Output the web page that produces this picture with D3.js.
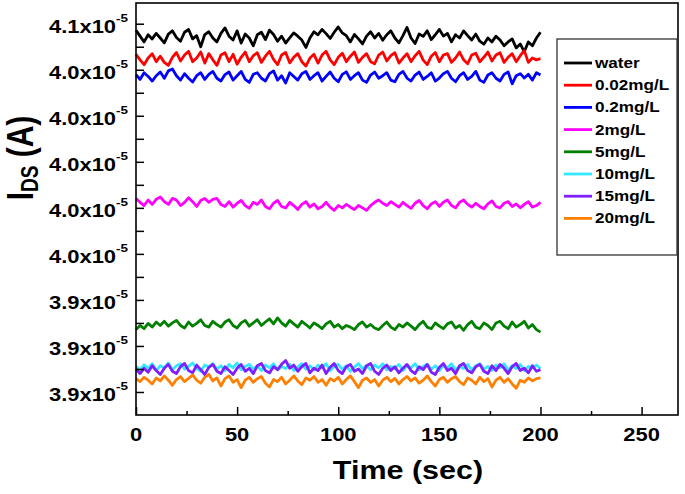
<!DOCTYPE html>
<html><head><meta charset="utf-8">
<script src="https://cdn.jsdelivr.net/npm/d3@7"></script>
<style>body{margin:0;background:#fff}svg{display:block}text{font-family:Arial,"Liberation Sans",sans-serif;font-weight:bold;fill:#000}</style>
</head><body><svg id="c" width="685" height="494"></svg>
<script>
// time points (sec), 0..200 step 2
const time = d3.range(0, 201, 2);
const seriesNames = ["water","0.02mg/L","0.2mg/L","2mg/L","5mg/L","10mg/L","15mg/L","20mg/L"];
const seriesColors = ["#000000","#ff0000","#0000ff","#ff00ff","#008000","#33e8ff","#7f1fff","#ff8000"];
// I_DS values in units of 1e-5 A
const water = [4.0572,4.0546,4.0521,4.0552,4.0534,4.0558,4.0538,4.0517,4.0555,4.0569,
4.0540,4.0524,4.0563,4.0575,4.0534,4.0548,4.0500,4.0553,4.0565,4.0538,
4.0521,4.0558,4.0582,4.0546,4.0529,4.0569,4.0516,4.0555,4.0538,4.0504,
4.0552,4.0563,4.0531,4.0572,4.0553,4.0524,4.0546,4.0516,4.0538,4.0560,
4.0546,4.0529,4.0497,4.0538,4.0565,4.0552,4.0575,4.0557,4.0536,4.0563,
4.0586,4.0560,4.0548,4.0521,4.0553,4.0534,4.0512,4.0546,4.0565,4.0538,
4.0558,4.0528,4.0552,4.0569,4.0538,4.0517,4.0548,4.0584,4.0538,4.0514,
4.0555,4.0545,4.0569,4.0531,4.0552,4.0575,4.0546,4.0558,4.0521,4.0552,
4.0538,4.0569,4.0548,4.0529,4.0555,4.0524,4.0511,4.0538,4.0521,4.0546,
4.0529,4.0504,4.0521,4.0534,4.0495,4.0512,4.0478,4.0521,4.0504,4.0538,
4.0563];
const mg002 = [4.0467,4.0443,4.0422,4.0451,4.0470,4.0435,4.0459,4.0432,4.0419,4.0454,
4.0475,4.0438,4.0464,4.0480,4.0435,4.0451,4.0477,4.0429,4.0470,4.0443,
4.0419,4.0464,4.0474,4.0435,4.0467,4.0424,4.0454,4.0477,4.0435,4.0461,
4.0474,4.0432,4.0459,4.0480,4.0445,4.0422,4.0464,4.0475,4.0430,4.0454,
4.0470,4.0435,4.0416,4.0451,4.0467,4.0429,4.0464,4.0480,4.0443,4.0422,
4.0454,4.0472,4.0435,4.0459,4.0477,4.0432,4.0454,4.0470,4.0435,4.0426,
4.0464,4.0477,4.0438,4.0461,4.0474,4.0429,4.0451,4.0470,4.0435,4.0461,
4.0480,4.0442,4.0422,4.0459,4.0475,4.0435,4.0464,4.0470,4.0432,4.0451,
4.0477,4.0443,4.0426,4.0464,4.0472,4.0435,4.0454,4.0477,4.0438,4.0464,
4.0474,4.0432,4.0454,4.0470,4.0435,4.0461,4.0483,4.0432,4.0451,4.0443,
4.0448];
const mg02 = [4.0379,4.0358,4.0387,4.0371,4.0351,4.0374,4.0390,4.0363,4.0395,4.0403,
4.0374,4.0355,4.0383,4.0363,4.0347,4.0374,4.0387,4.0358,4.0380,4.0393,
4.0363,4.0351,4.0379,4.0390,4.0355,4.0374,4.0393,4.0358,4.0345,4.0380,
4.0387,4.0363,4.0351,4.0383,4.0395,4.0355,4.0374,4.0342,4.0387,4.0371,
4.0355,4.0383,4.0393,4.0358,4.0374,4.0387,4.0351,4.0371,4.0390,4.0363,
4.0348,4.0380,4.0391,4.0358,4.0374,4.0387,4.0355,4.0345,4.0377,4.0390,
4.0363,4.0374,4.0387,4.0355,4.0348,4.0380,4.0393,4.0364,4.0351,4.0377,
4.0390,4.0358,4.0371,4.0387,4.0351,4.0364,4.0383,4.0393,4.0363,4.0348,
4.0374,4.0387,4.0358,4.0371,4.0393,4.0355,4.0345,4.0377,4.0387,4.0363,
4.0351,4.0380,4.0390,4.0339,4.0374,4.0383,4.0364,4.0380,4.0355,4.0387,
4.0377];
const mg2 = [3.9841,3.9824,3.9810,3.9834,3.9815,3.9837,3.9847,3.9827,3.9815,3.9841,
3.9834,3.9810,3.9824,3.9844,3.9827,3.9806,3.9832,3.9841,3.9824,3.9837,
3.9841,3.9815,3.9806,3.9827,3.9803,3.9820,3.9832,3.9810,3.9798,3.9824,
3.9815,3.9834,3.9806,3.9796,3.9820,3.9832,3.9806,3.9800,3.9824,3.9810,
3.9793,3.9815,3.9827,3.9803,3.9817,3.9796,3.9806,3.9824,3.9803,3.9789,
3.9810,3.9800,3.9815,3.9803,3.9793,3.9810,3.9800,3.9789,3.9810,3.9824,
3.9834,3.9820,3.9810,3.9827,3.9815,3.9803,3.9824,3.9810,3.9798,3.9820,
3.9832,3.9810,3.9796,3.9817,3.9827,3.9806,3.9824,3.9834,3.9810,3.9800,
3.9824,3.9834,3.9815,3.9803,3.9820,3.9806,3.9796,3.9817,3.9830,3.9806,
3.9800,3.9820,3.9827,3.9806,3.9817,3.9800,3.9815,3.9827,3.9803,3.9810,
3.9824];
const mg5 = [3.9271,3.9289,3.9275,3.9298,3.9282,3.9304,3.9289,3.9307,3.9286,3.9300,
3.9311,3.9289,3.9278,3.9304,3.9286,3.9298,3.9314,3.9289,3.9282,3.9307,
3.9293,3.9282,3.9304,3.9314,3.9289,3.9278,3.9300,3.9311,3.9286,3.9300,
3.9314,3.9289,3.9304,3.9318,3.9296,3.9322,3.9300,3.9286,3.9311,3.9296,
3.9282,3.9307,3.9293,3.9278,3.9300,3.9289,3.9275,3.9296,3.9307,3.9282,
3.9293,3.9275,3.9289,3.9282,3.9271,3.9293,3.9304,3.9282,3.9293,3.9278,
3.9271,3.9289,3.9304,3.9282,3.9271,3.9293,3.9282,3.9300,3.9286,3.9271,
3.9293,3.9307,3.9282,3.9275,3.9300,3.9286,3.9275,3.9296,3.9304,3.9278,
3.9289,3.9268,3.9293,3.9307,3.9282,3.9275,3.9300,3.9289,3.9271,3.9300,
3.9307,3.9286,3.9275,3.9304,3.9282,3.9293,3.9307,3.9278,3.9293,3.9271,
3.9260];
const mg10 = [3.9111,3.9096,3.9118,3.9103,3.9123,3.9093,3.9114,3.9105,3.9126,3.9096,
3.9114,3.9123,3.9099,3.9111,3.9126,3.9102,3.9090,3.9117,3.9108,3.9123,
3.9099,3.9114,3.9093,3.9120,3.9105,3.9126,3.9096,3.9111,3.9120,3.9099,
3.9114,3.9093,3.9117,3.9105,3.9123,3.9096,3.9111,3.9102,3.9120,3.9093,
3.9108,3.9123,3.9099,3.9114,3.9096,3.9117,3.9105,3.9123,3.9093,3.9111,
3.9120,3.9099,3.9114,3.9090,3.9108,3.9123,3.9102,3.9114,3.9096,3.9117,
3.9105,3.9123,3.9096,3.9111,3.9102,3.9120,3.9093,3.9114,3.9105,3.9123,
3.9096,3.9111,3.9120,3.9099,3.9114,3.9093,3.9117,3.9105,3.9123,3.9096,
3.9111,3.9102,3.9120,3.9096,3.9114,3.9123,3.9099,3.9111,3.9093,3.9117,
3.9105,3.9123,3.9096,3.9114,3.9102,3.9120,3.9093,3.9111,3.9105,3.9117,
3.9102];
const mg15 = [3.9100,3.9080,3.9103,3.9086,3.9114,3.9093,3.9076,3.9103,3.9120,3.9090,
3.9080,3.9110,3.9124,3.9093,3.9083,3.9117,3.9097,3.9076,3.9107,3.9120,
3.9090,3.9080,3.9110,3.9093,3.9076,3.9103,3.9120,3.9090,3.9103,3.9080,
3.9114,3.9124,3.9093,3.9083,3.9110,3.9097,3.9120,3.9137,3.9103,3.9117,
3.9090,3.9110,3.9124,3.9083,3.9103,3.9093,3.9117,3.9080,3.9107,3.9124,
3.9093,3.9080,3.9110,3.9120,3.9090,3.9100,3.9080,3.9114,3.9124,3.9090,
3.9076,3.9103,3.9117,3.9093,3.9110,3.9083,3.9103,3.9120,3.9093,3.9080,
3.9110,3.9097,3.9120,3.9086,3.9076,3.9107,3.9124,3.9093,3.9103,3.9080,
3.9114,3.9124,3.9093,3.9083,3.9110,3.9120,3.9090,3.9080,3.9114,3.9093,
3.9120,3.9103,3.9080,3.9110,3.9124,3.9093,3.9103,3.9083,3.9114,3.9090,
3.9097];
const mg20 = [3.9058,3.9045,3.9064,3.9051,3.9035,3.9061,3.9048,3.9070,3.9051,3.9029,
3.9054,3.9067,3.9045,3.9059,3.9074,3.9051,3.9038,3.9064,3.9077,3.9048,
3.9061,3.9026,3.9058,3.9070,3.9042,3.9054,3.9019,3.9051,3.9064,3.9042,
3.9058,3.9067,3.9038,3.9022,3.9054,3.9045,3.9064,3.9035,3.9051,3.9070,
3.9048,3.9032,3.9061,3.9051,3.9067,3.9042,3.9054,3.9029,3.9058,3.9048,
3.9064,3.9035,3.9054,3.9070,3.9045,3.9019,3.9051,3.9061,3.9042,3.9054,
3.9026,3.9051,3.9064,3.9045,3.9059,3.9035,3.9054,3.9067,3.9048,3.9061,
3.9038,3.9051,3.9070,3.9045,3.9026,3.9054,3.9064,3.9042,3.9058,3.9067,
3.9045,3.9032,3.9061,3.9051,3.9035,3.9064,3.9045,3.9058,3.9022,3.9051,
3.9064,3.9042,3.9058,3.9035,3.9016,3.9051,3.9042,3.9061,3.9048,3.9058,
3.9061];
const seriesValues = [water, mg002, mg02, mg2, mg5, mg10, mg15, mg20];
const xTicks = [0, 50, 100, 150, 200, 250];
const xMinorTicks = [25, 75, 125, 175, 225];
const yTicks = [3.90, 3.92, 3.94, 3.96, 3.98, 4.00, 4.02, 4.04, 4.06];
const yMinorTicks = [3.91, 3.93, 3.95, 3.97, 3.99, 4.01, 4.03, 4.05];
const yTickLabels = ["3.9", "3.9", "3.9", "4.0", "4.0", "4.0", "4.0", "4.0", "4.1"];

const svg = d3.select("#c");
const L = 136, R = 678, T = 3, B = 415;
const SX = 1.22; // horizontal text stretch
const x = d3.scaleLinear().domain([0, 268]).range([L, R]);
const y = d3.scaleLinear().domain([3.89, 4.069]).range([B, T]);

// lines
const line = d3.line().x((d, i) => x(time[i])).y(d => y(d));
seriesValues.forEach((vals, k) => {
  svg.append("path").datum(vals).attr("d", line)
    .attr("fill", "none").attr("stroke", seriesColors[k])
    .attr("stroke-width", 2.8).attr("stroke-linejoin", "round");
});

// axes (ticks inward)
svg.append("g").attr("transform", `translate(0,${B})`)
  .call(d3.axisBottom(x).tickValues(xTicks).tickSize(-8).tickFormat(""));
svg.append("g").attr("transform", `translate(0,${B})`)
  .call(d3.axisBottom(x).tickValues(xMinorTicks).tickSize(-4).tickFormat(""));
svg.append("g").attr("transform", `translate(${L},0)`)
  .call(d3.axisLeft(y).tickValues(yTicks).tickSize(-8).tickFormat(""));
svg.append("g").attr("transform", `translate(${L},0)`)
  .call(d3.axisLeft(y).tickValues(yMinorTicks).tickSize(-8).tickFormat(""));
svg.selectAll(".domain").remove();
svg.selectAll(".tick line").attr("stroke", "#000").attr("stroke-width", 1.5);

// frame
svg.append("rect").attr("x", L).attr("y", T).attr("width", R - L).attr("height", B - T)
  .attr("fill", "none").attr("stroke", "#000").attr("stroke-width", 1.6);

// x tick labels
xTicks.forEach(v => {
  svg.append("text").attr("transform", `translate(${x(v)},${441}) scale(${SX},1)`)
    .attr("text-anchor", "middle").attr("font-size", 18).text(v);
});
// y tick labels
yTicks.forEach((v, i) => {
  const t = svg.append("text").attr("transform", `translate(${128},${y(v) + 9.5}) scale(${SX},1)`)
    .attr("text-anchor", "end").attr("font-size", 18);
  t.append("tspan").text(yTickLabels[i] + "x10");
  t.append("tspan").attr("font-size", 11).attr("dy", -11).text("-5");
});

// axis titles
svg.append("text").attr("transform", `translate(${408},${479}) scale(${SX},1)`)
  .attr("text-anchor", "middle").attr("font-size", 25).text("Time (sec)");
const yt = svg.append("text").attr("transform", `translate(${33},${158}) scale(${SX},1) rotate(-90)`)
  .attr("text-anchor", "middle").attr("font-size", 30);
yt.append("tspan").text("I");
yt.append("tspan").attr("font-size", 19).attr("dy", 4).text("DS");
yt.append("tspan").attr("dy", -4).text(" (A)");

// legend
const lg = svg.append("g");
lg.append("rect").attr("x", 557).attr("y", 39).attr("width", 120).attr("height", 216)
  .attr("fill", "#fff").attr("stroke", "#333").attr("stroke-width", 1.3);
seriesNames.forEach((n, k) => {
  const cy = 63 + k * 22.2;
  lg.append("line").attr("x1", 564).attr("x2", 592).attr("y1", cy).attr("y2", cy)
    .attr("stroke", seriesColors[k]).attr("stroke-width", 2.8);
  lg.append("text").attr("transform", `translate(${595},${cy + 5}) scale(1.18,1)`)
    .attr("font-size", 14.5).text(n);
});
</script></body></html>
